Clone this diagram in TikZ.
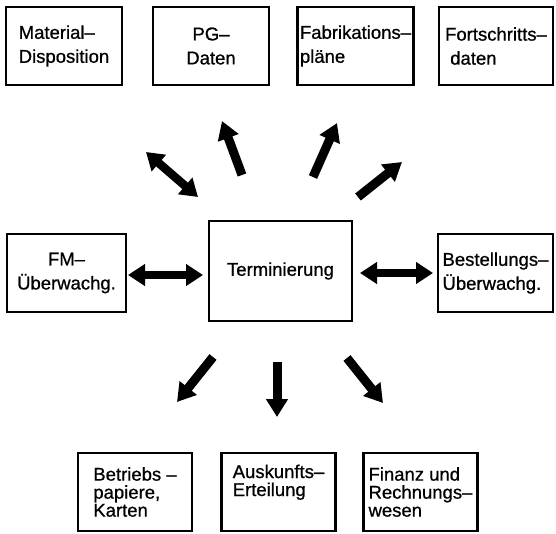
\documentclass[tikz,border=0pt]{standalone}
\usepackage{fontspec}
\setmainfont{Liberation Sans}[FakeBold=0.8]
\usetikzlibrary{arrows.meta}
\begin{document}
\begin{tikzpicture}[x=1pt, y=-1pt,
	box/.style={draw, line width=2.6pt, minimum width=116pt, minimum height=78pt, inner sep=0pt, align=left, font=\fontsize{18.5}{24}\selectfont},
	lowbox/.style={box, minimum width=114pt, font=\fontsize{18.5}{18}\selectfont},
	fat/.style={line width=9pt, -{Triangle[length=18pt, width=21pt]}},
	fatboth/.style={line width=8.5pt, {Triangle[length=17pt, width=21pt]}-{Triangle[length=17pt, width=21pt]}}]
	\useasboundingbox (0,0) rectangle (556,533);
	\node[box] (mat) at (64,46) {Material--\\Disposition};
	\node[box, align=center] (pg) at (211,46) {PG--\\Daten};
	\node[box] (fab) at (355.5,46) {Fabrikations--\\pläne};
	\node[box, minimum width=114pt] (fort) at (496,46) {Fortschritts--\\\ daten};
	\node[box, minimum width=119pt, align=center] (fm) at (66.5,273) {FM--\\Überwachg.};
	\node[box, minimum width=143pt, minimum height=100pt] (term) at (280.5,271) {Terminierung};
	\node[box, minimum width=115pt] (best) at (495.5,273) {Bestellungs--\\Überwachg.};
	\node[lowbox] (betr) at (135,492) {Betriebs --\\papiere,\\Karten};
	\node[lowbox] (ausk) at (278.5,492) {Auskunfts--\\Erteilung\\\strut};
	\node[lowbox] (fin) at (420.5,492) {Finanz und\\Rechnungs--\\wesen};
	\coordinate (mat-a) at (198,197); \coordinate (mat-b) at (146,152);
	\coordinate (pg-a) at (242,175); \coordinate (pg-b) at (222,121);
	\coordinate (fab-a) at (313,177); \coordinate (fab-b) at (337,123);
	\coordinate (fort-a) at (358,197); \coordinate (fort-b) at (402,162);
	\coordinate (fm-a) at (203,275); \coordinate (fm-b) at (128,275);
	\coordinate (best-a) at (360,273); \coordinate (best-b) at (433,273);
	\coordinate (betr-a) at (213,357); \coordinate (betr-b) at (177,402);
	\coordinate (ausk-a) at (277,362); \coordinate (ausk-b) at (277,417);
	\coordinate (fin-a) at (347,358); \coordinate (fin-b) at (383,403);
	\draw[fatboth] (mat-a)--(mat-b);
	\draw[fat] (pg-a)--(pg-b);
	\draw[fat] (fab-a)--(fab-b);
	\draw[fat] (fort-a)--(fort-b);
	\draw[fatboth] (fm-a)--(fm-b);
	\draw[fatboth] (best-a)--(best-b);
	\draw[fat] (betr-a)--(betr-b);
	\draw[fat] (ausk-a)--(ausk-b);
	\draw[fat] (fin-a)--(fin-b);
\end{tikzpicture}
\end{document}
